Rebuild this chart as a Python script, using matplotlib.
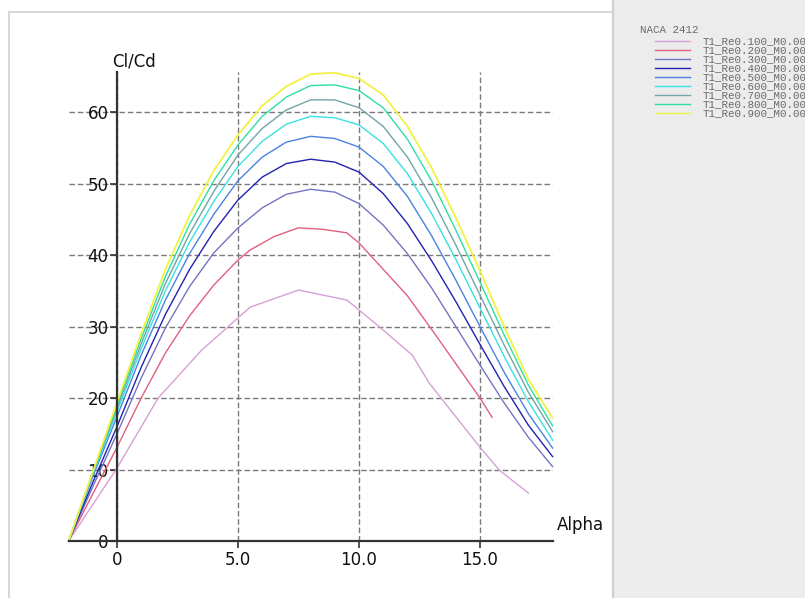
import matplotlib
matplotlib.use("Agg")
import matplotlib.pyplot as plt
from matplotlib.patches import Rectangle
from matplotlib.lines import Line2D

W, H = 805, 598

# --- data ---
airfoil = "NACA 2412"
reynolds = [0.1, 0.2, 0.3, 0.4, 0.5, 0.6, 0.7, 0.8, 0.9]
colors = ['#d8a0d4', '#e0607f', '#7474c4', '#2222b0', '#4a82e2',
          '#38e2e2', '#74a4a8', '#2ce0a4', '#f2f244']

alpha_re01 = [-2, -1, 0, 1.7, 3.5, 5.5, 7.5, 9.5, 10.9, 12.2, 12.9, 15, 15.8, 17]
clcd_re01 = [0, 5.1, 10.2, 20.0, 26.7, 32.7, 35.1, 33.7, 29.8, 26.0, 22.1, 13.1, 9.9, 6.7]

alpha_re02 = [-2, -1, 0, 1, 2, 3, 4, 5, 5.5, 6.5, 7.5, 8.5, 9.5, 10, 11, 12, 13, 14, 15, 15.5]
clcd_re02 = [0, 6.6, 13.1, 20.0, 26.3, 31.5, 35.8, 39.3, 40.7, 42.6, 43.8, 43.6, 43.1,
             41.7, 38.0, 34.3, 29.6, 24.8, 20.0, 17.3]

alpha_full = [-2, -1, 0, 1, 2, 3, 4, 5, 6, 7, 8, 9, 10, 11, 12, 13, 14, 15, 16, 17, 18]
clcd_re03 = [0, 7.6, 15.0, 22.8, 29.8, 35.6, 40.3, 43.8, 46.6, 48.5, 49.2, 48.8, 47.2,
             44.2, 40.2, 35.4, 30.0, 24.6, 19.3, 14.5, 10.4]
clcd_re04 = [0, 8.2, 16.0, 24.3, 31.7, 38.0, 43.3, 47.7, 50.9, 52.8, 53.4, 53.0, 51.6,
             48.6, 44.4, 39.2, 33.5, 27.5, 21.6, 16.2, 11.8]
clcd_re05 = [0, 9.0, 17.4, 26.0, 33.7, 40.2, 45.7, 50.4, 53.7, 55.8, 56.6, 56.3, 55.1,
             52.4, 48.2, 42.7, 36.5, 30.0, 23.6, 17.8, 13.0]
clcd_re06 = [0, 9.3, 18.1, 26.9, 35.0, 41.8, 47.5, 52.4, 55.9, 58.3, 59.4, 59.2, 58.2,
             55.6, 51.4, 45.8, 39.4, 32.6, 25.8, 19.5, 14.1]
clcd_re07 = [0, 9.5, 18.6, 27.6, 36.0, 43.0, 48.9, 54.0, 57.7, 60.3, 61.7, 61.7, 60.6,
             58.0, 53.7, 48.0, 41.4, 34.4, 27.4, 20.8, 15.3]
clcd_re08 = [0, 9.6, 19.0, 28.3, 37.0, 44.3, 50.4, 55.4, 59.4, 62.1, 63.7, 63.8, 63.0,
             60.6, 56.2, 50.4, 43.5, 36.2, 28.8, 21.8, 16.1]
clcd_re09 = [0, 9.7, 19.4, 29.0, 38.0, 45.5, 51.8, 56.8, 60.9, 63.6, 65.3, 65.5, 64.7,
             62.4, 58.0, 52.2, 45.2, 37.8, 30.0, 22.6, 17.2]

series = [
    (alpha_re01, clcd_re01), (alpha_re02, clcd_re02),
    (alpha_full, clcd_re03), (alpha_full, clcd_re04), (alpha_full, clcd_re05),
    (alpha_full, clcd_re06), (alpha_full, clcd_re07), (alpha_full, clcd_re08),
    (alpha_full, clcd_re09),
]

xticks = [0, 5, 10, 15]
xticklabels = ['0', '5.0', '10.0', '15.0']
yticks = [0, 10, 20, 30, 40, 50, 60]


def fx(px):
    return px / W


def fy(py):
    return 1 - py / H


fig = plt.figure(figsize=(W / 100, H / 100), dpi=100)

# panels
fig.patches.append(Rectangle((fx(612), 0), 1 - fx(612), 1, transform=fig.transFigure,
                             facecolor='#ececec', edgecolor='none', zorder=0))
fig.add_artist(Line2D([fx(612.5), fx(612.5)], [0, 1], color='#cfcfcf', lw=1.5))
fig.add_artist(Line2D([fx(8.5), fx(8.5)], [0, fy(12)], color='#d4d4d4', lw=1.3))
fig.add_artist(Line2D([fx(8.5), fx(612)], [fy(12), fy(12)], color='#d4d4d4', lw=1.3))

# plot area
ax = fig.add_axes([fx(68.6), fy(541), fx(552.6) - fx(68.6), fy(72) - fy(541)])
ax.set_facecolor('none')
ax.set_xlim(-2, 18)
ax.set_ylim(0, 65.6)

for (a, v), c in zip(series, colors):
    ax.plot(a, v, color=c, lw=1.0 if c != '#f2f244' else 1.3, clip_on=False, zorder=3)

ax.spines['top'].set_visible(False)
ax.spines['right'].set_visible(False)
ax.spines['left'].set_position(('data', 0))
for s in ('left', 'bottom'):
    ax.spines[s].set_color('#333333')
    ax.spines[s].set_linewidth(1.6)
    ax.spines[s].set_zorder(4)

ax.set_xticks(xticks)
ax.set_xticklabels(xticklabels)
ax.set_yticks(yticks)
ax.tick_params(axis='both', direction='out', length=5, width=1.2, color='#333333',
               labelsize=12, labelcolor='#111111')
ax.tick_params(axis='x', pad=2)
ax.tick_params(axis='y', pad=1)

ax.grid(True, color='#7a7a7a', lw=1.0, linestyle=(0, (4, 2)), zorder=1)
ax.set_axisbelow(True)

fig.text(fx(112), fy(61), 'Cl/Cd', fontsize=12, ha='left', va='center', color='#111111')
fig.text(fx(557), fy(525), 'Alpha', fontsize=12, ha='left', va='center', color='#111111')

# legend in the side panel (labels run past the right edge, as in the original)
fig.text(fx(640), fy(30), airfoil, fontsize=7.8, family='Liberation Mono',
         color='#6a6a6a', ha='left', va='center')
for i, (re, c) in enumerate(zip(reynolds, colors)):
    y = fy(41 + 9 * i)
    fig.add_artist(Line2D([fx(655), fx(690)], [y, y], color=c, lw=1.0))
    fig.text(fx(703), y, f'T1_Re{re:.3f}_M0.00_N9.0', fontsize=7.8,
             family='Liberation Mono', color='#6a6a6a', ha='left', va='center')

fig.savefig('out.png', dpi=100)
